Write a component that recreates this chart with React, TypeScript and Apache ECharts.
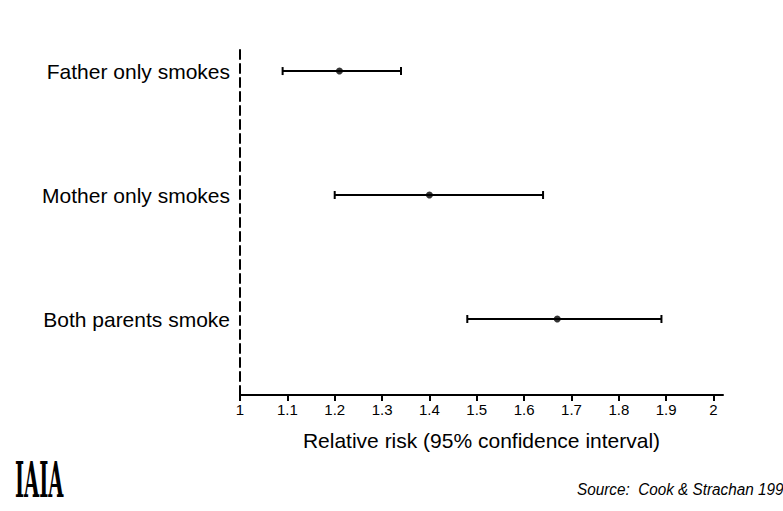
import React, { useEffect, useRef } from "react";
import * as echarts from "echarts";

const CATEGORIES = ["Father only smokes", "Mother only smokes", "Both parents smoke"];
const ROW_POS = [3, 2, 1];
const RR = [1.21, 1.4, 1.67];
const LOWER = [1.09, 1.2, 1.48];
const UPPER = [1.34, 1.64, 1.89];
const X_TICKS = [1, 1.1, 1.2, 1.3, 1.4, 1.5, 1.6, 1.7, 1.8, 1.9, 2];

const FONT = "Liberation Sans, Arial, sans-serif";

export default function App() {
  const ref = useRef<HTMLDivElement>(null);
  useEffect(() => {
    document.body.style.margin = "0";
    const chart = echarts.init(ref.current!, null, { renderer: "svg" });
    const whiskerData = CATEGORIES.map((_, i) => [LOWER[i], UPPER[i], ROW_POS[i]]);
    const pointData = CATEGORIES.map((_, i) => [RR[i], ROW_POS[i]]);
    chart.setOption({
      animation: false,
      backgroundColor: "#fff",
      textStyle: { fontFamily: FONT },
      grid: { left: 240, right: 60, top: 47, bottom: 116 },
      xAxis: {
        type: "value",
        min: 1,
        max: 2.02,
        interval: 0.1,
        splitLine: { show: false },
        axisLine: { onZero: false, lineStyle: { color: "#000", width: 2 } },
        axisTick: { customValues: X_TICKS, length: 6, lineStyle: { color: "#000", width: 2 } },
        axisLabel: {
          customValues: X_TICKS,
          color: "#000",
          fontSize: 15,
          margin: 7,
          fontFamily: FONT,
          formatter: (v: number) => String(Math.round(v * 10) / 10),
        },
        name: "Relative risk (95% confidence interval)",
        nameLocation: "middle",
        nameGap: 35,
        nameTextStyle: { color: "#000", fontSize: 21, fontFamily: FONT },
      },
      yAxis: {
        type: "value",
        min: 0.387,
        max: 3.194,
        position: "left",
        splitLine: { show: false },
        axisLine: { show: true, onZero: false, lineStyle: { color: "#000", width: 2, type: [9, 5] } },
        axisTick: { show: false },
        axisLabel: {
          customValues: ROW_POS,
          color: "#000",
          fontSize: 21,
          margin: 10,
          fontFamily: FONT,
          formatter: (v: number) => {
            const i = ROW_POS.indexOf(Math.round(v));
            return i >= 0 ? CATEGORIES[i] : "";
          },
        },
      },
      series: [
        {
          type: "custom",
          data: whiskerData,
          renderItem: (params: any, api: any) => {
            const y = api.value(2);
            const p1 = api.coord([api.value(0), y]);
            const p2 = api.coord([api.value(1), y]);
            const style = { stroke: "#000", lineWidth: 2 };
            return {
              type: "group",
              children: [
                { type: "line", shape: { x1: p1[0], y1: p1[1], x2: p2[0], y2: p2[1] }, style },
                { type: "line", shape: { x1: p1[0], y1: p1[1] - 4, x2: p1[0], y2: p1[1] + 4 }, style },
                { type: "line", shape: { x1: p2[0], y1: p2[1] - 4, x2: p2[0], y2: p2[1] + 4 }, style },
              ],
            };
          },
          z: 2,
        },
        {
          type: "scatter",
          data: pointData,
          symbol: "circle",
          symbolSize: 7,
          itemStyle: { color: "#000" },
          z: 3,
        },
      ],
      graphic: [
        {
          type: "text",
          x: 577,
          y: 480,
          scaleX: 0.9,
          style: {
            text: "Source:  Cook & Strachan 1999",
            font: "italic 17px Liberation Sans, Arial, sans-serif",
            fill: "#000",
          },
        },
        {
          type: "text",
          x: 15,
          y: 456,
          scaleX: 0.45,
          style: {
            text: "IAIA",
            font: "bold 48px DejaVu Serif Condensed, serif",
            fill: "#000",
          },
        },
      ],
    });
    return () => chart.dispose();
  }, []);
  return <div ref={ref} style={{ width: 783, height: 511 }} />;
}
